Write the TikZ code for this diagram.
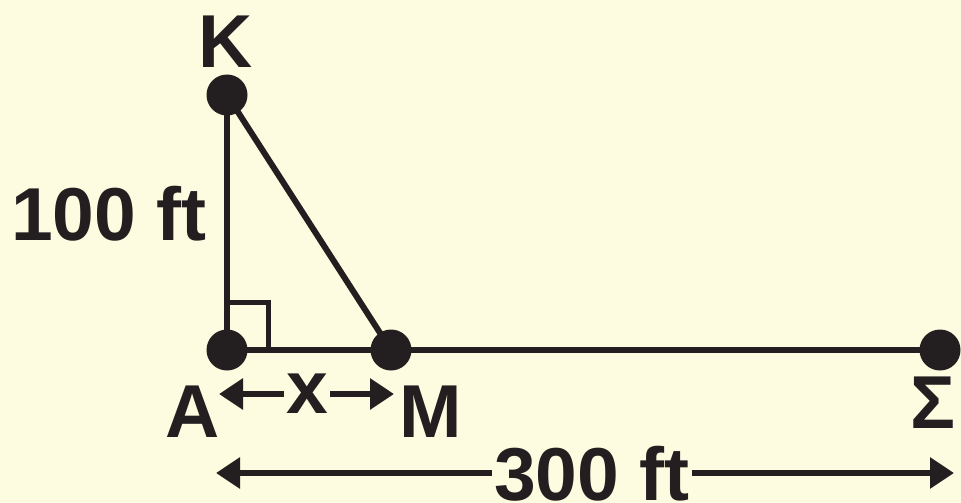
\documentclass[tikz,border=0pt]{standalone}
\usepackage{fontspec}
\setmainfont{Liberation Sans}
\usetikzlibrary{arrows.meta}
\definecolor{bgc}{HTML}{FDFBE0}
\definecolor{ink}{HTML}{231F20}
\tikzset{
  dot/.style={circle,fill=ink,draw=none,minimum size=41pt,inner sep=0pt},
  lbl/.style={text=ink,inner sep=0pt,anchor=base,font=\bfseries\fontsize{75}{90}\selectfont},
  seg/.style={draw=ink,line width=6pt},
  dim/.style={draw=ink,line width=6pt,-{Triangle[length=24pt,width=30pt]}},
}
\begin{document}
\begin{tikzpicture}[x=1pt,y=-1pt]
\fill[bgc] (0,0) rectangle (961,503);
\useasboundingbox (0,0) rectangle (961,503);
% points
\node[dot] (A) at (227,350) {};
\node[dot] (K) at (227,95) {};
\node[dot] (M) at (391,350) {};
\node[dot] (S) at (940,350) {};
% segments
\draw[seg] (K.center) -- (A.center);
\draw[seg] (K.center) -- (M.center);
\draw[seg] (A.center) -- (S.center);
% right angle mark
\coordinate (ra1) at (227,302);
\coordinate (ra2) at (268,302);
\coordinate (ra3) at (268,350);
\draw[draw=ink,line width=5pt] (ra1) -- (ra2) -- (ra3);
% labels
\node[lbl] (lK) at (226,67) {K};
\node[lbl] (lA) at (193,437) {A};
\node[lbl] (lM) at (431,437) {M};
\node[lbl] (lS) at (933,428) {Σ};
\node[lbl] (l100) at (109,240) {100 ft};
% x dimension
\node[lbl,anchor=center] (lx) at (307,394) {x};
\coordinate (xL) at (219,394);
\coordinate (xR) at (394,394);
\draw[dim] ([xshift=-2pt]lx.west) -- (xL);
\draw[dim] ([xshift=2pt]lx.east) -- (xR);
% 300 ft dimension
\node[lbl] (l300) at (592,500) {300 ft};
\coordinate (dL) at (216,473);
\coordinate (dR) at (954,473);
\draw[dim] ([xshift=-2pt]l300.west |- dL) -- (dL);
\draw[dim] ([xshift=2pt]l300.east |- dR) -- (dR);
\end{tikzpicture}
\end{document}
